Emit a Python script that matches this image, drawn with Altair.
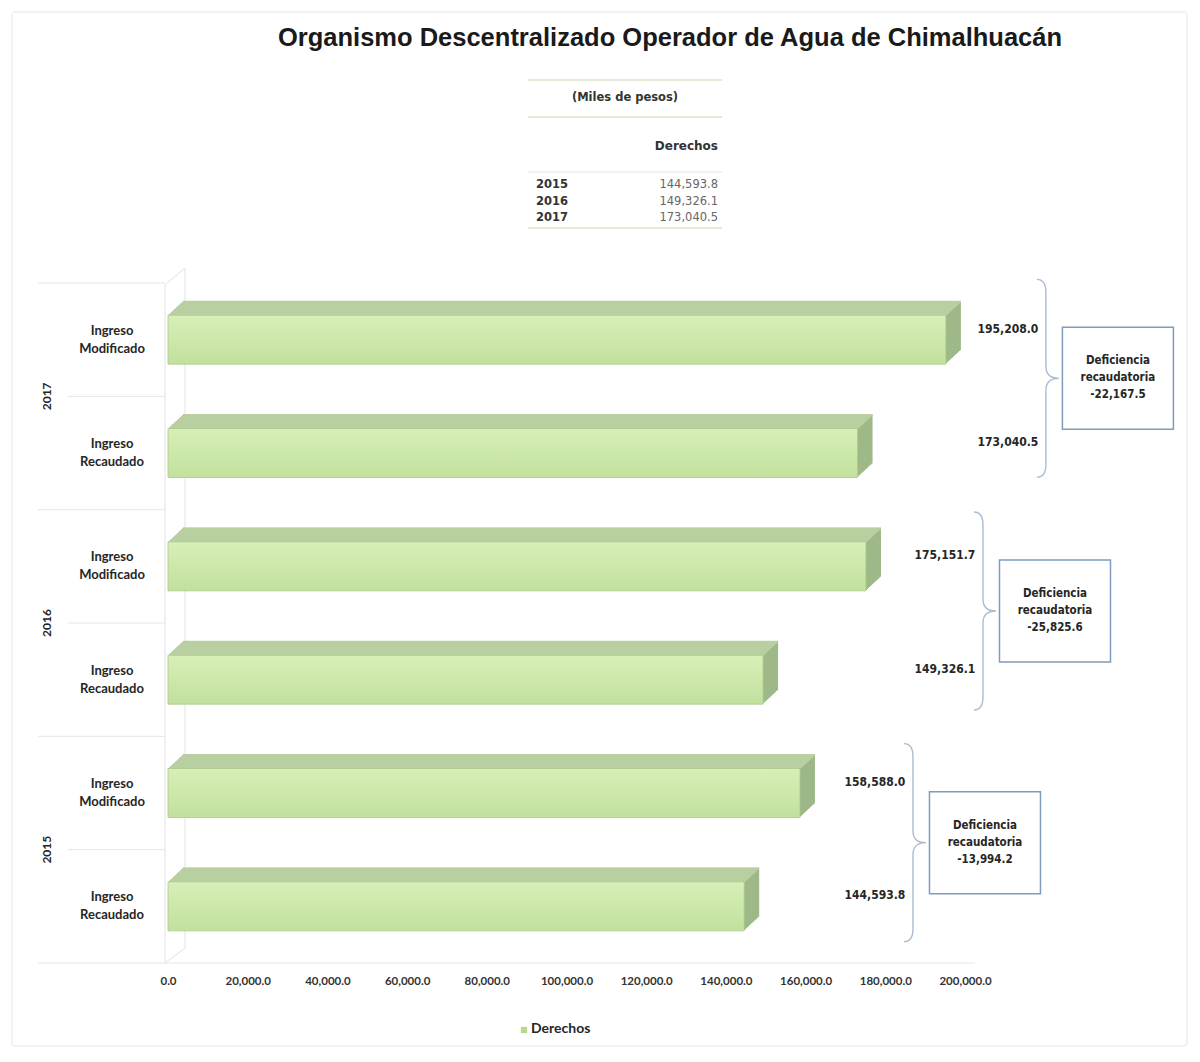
import altair as alt
import pandas as pd

# ---------------- data ----------------
title_text = "Organismo Descentralizado Operador de Agua de Chimalhuacán"
years = ["2017", "2016", "2015"]                      # top to bottom
ingreso_modificado = [195208.0, 175151.7, 158588.0]
ingreso_recaudado = [173040.5, 149326.1, 144593.8]
row_labels = ["Ingreso\nModificado", "Ingreso\nRecaudado"]
table_years = ["2015", "2016", "2017"]
table_derechos = [144593.8, 149326.1, 173040.5]
table_unit = "(Miles de pesos)"
table_header = "Derechos"
x_ticks = [0, 20000, 40000, 60000, 80000, 100000, 120000, 140000, 160000, 180000, 200000]
legend_label = "Derechos"
deficit_label = "Deficiencia\nrecaudatoria"

# ---------------- layout / style ----------------
W, H = 797, 680
XMAX = 200000
PX = XMAX / W                 # data units per pixel
STEP = H / 6
BAR = 49
DA, DB, N = 15, 14, 15        # 3D depth (right, up) and number of slices
LABEL_GAP = [62, 79, 75]      # px from bar end to value labels, per year
CENTER_OFF = [-18, -12, -7]   # px shift of brace/box centre, per year
TOP_C = "#b9cfa1"
SIDE_C = "#9fb888"
TXT = "#262626"
NARROW = "Liberation Sans Narrow, Arial Narrow, DejaVu Sans Condensed, sans-serif"
TABLE_FONT = "DejaVu Sans"
BRACE = "M-0.09,-0.99 Q0,-0.99 0,-0.86 L0,-0.12 Q0,0 0.13,0 Q0,0 0,0.12 L0,0.86 Q0,0.99 -0.09,0.99"
BOX = "M-0.555,-0.51 L0.555,-0.51 L0.555,0.51 L-0.555,0.51 Z"

rows = []
for i, yr in enumerate(years):
    for lab, v in zip(row_labels, [ingreso_modificado[i], ingreso_recaudado[i]]):
        rows.append({"key": f"{yr} {lab}", "year": yr, "label": lab, "value": v})
df = pd.DataFrame(rows)
keys = list(df["key"])

xscale = alt.Scale(domain=[0, XMAX], nice=False, zero=True)
yscale = alt.Scale(domain=keys, paddingInner=0, paddingOuter=0)
XAXIS = alt.Axis(values=x_ticks, format=",.1f", grid=False, domain=False, ticks=False,
                 labelPadding=12, labelFont="Lato", labelFontWeight="bold", labelFontSize=11.5,
                 labelColor="#333333", labelFlush=False, labelOverlap=False, title=None)
Y = alt.Y("key:N", scale=yscale, axis=None)
one = pd.DataFrame({"a": [0]})


def xq(field):
    return alt.X(field, scale=xscale, axis=XAXIS)


layers = []

# outer faint frame
layers.append(alt.Chart(one).mark_rect(fillOpacity=0, stroke="#e6e6e6", strokeWidth=1, cornerRadius=3).encode(
    x=alt.value(-156), x2=alt.value(W + 222), y=alt.value(-271), y2=alt.value(H + 83)))

# 3D wall (very faint)
wall = [(-3, 2, 17, -15), (17, -15, 17, H - 15), (-3, 2, -3, H), (17, H - 15, -3, H)]
for (a, b, c, d) in wall:
    layers.append(alt.Chart(one).mark_rule(color="#e2e2e2", strokeWidth=1).encode(
        x=alt.value(a), y=alt.value(b), x2=alt.value(c), y2=alt.value(d)))

# category separators on the left
for j in range(7):
    start = -130 if j % 2 == 0 else -100
    end = W + 10 if j == 6 else -3
    layers.append(alt.Chart(one).mark_rule(color="#e6e6e6", strokeWidth=1).encode(
        x=alt.value(start), x2=alt.value(end), y=alt.value(j * STEP), y2=alt.value(j * STEP)))

# 3D extrusion: side slices then top slices
for k in range(N, 0, -1):
    ox, oy = k * DA / N, -k * DB / N
    layers.append(alt.Chart(df).mark_bar(size=BAR, color=SIDE_C, xOffset=ox, x2Offset=ox,
                                         yOffset=oy, y2Offset=oy).encode(x=xq("value:Q"), y=Y))
for k in range(N, 0, -1):
    ox = k * DA / N
    oy = -(BAR / 2 + (k - 0.5) * DB / N)
    layers.append(alt.Chart(df).mark_bar(size=DB / N + 0.8, color=TOP_C, xOffset=ox, x2Offset=ox,
                                         yOffset=oy, y2Offset=oy).encode(x=xq("value:Q"), y=Y))

# front faces
front_grad = alt.Gradient(gradient="linear",
                          stops=[alt.GradientStop(color="#d7efb8", offset=0),
                                 alt.GradientStop(color="#c2e19c", offset=1)],
                          x1=0, x2=0, y1=0, y2=1)
layers.append(alt.Chart(df).mark_bar(size=BAR, color=front_grad, stroke="#a9c98b", strokeWidth=0.8).encode(
    x=xq("value:Q"), y=Y))

# row labels (two lines, centred on the band)
layers.append(alt.Chart(df).mark_text(lineBreak="\n", font="Lato", fontWeight="bold", fontSize=13,
                                      lineHeight=18, color=TXT, align="center", baseline="middle",
                                      dy=-9).encode(
    x=alt.value(-56), y=Y, text="label:N"))

# year labels (rotated)
layers.append(alt.Chart(df[df["label"] == row_labels[0]]).mark_text(
    angle=270, font="Lato", fontWeight="bold", fontSize=12, color=TXT, yOffset=STEP / 2,
    align="center", baseline="middle").encode(x=alt.value(-121), y=Y, text="year:N"))

# per-year annotations: value labels, brace, box
for i, yr in enumerate(years):
    mod, rec = ingreso_modificado[i], ingreso_recaudado[i]
    anchor_px = max(mod, rec) / PX + LABEL_GAP[i]
    lab = pd.DataFrame({"key": [keys[2 * i], keys[2 * i + 1]], "value": [mod, rec],
                        "lx": [anchor_px * PX] * 2})
    layers.append(alt.Chart(lab).mark_text(font=NARROW, fontWeight="bold", fontSize=12, color=TXT,
                                           dy=-11, align="center", baseline="middle").encode(
        x=xq("lx:Q"), y=Y, text=alt.Text("value:Q", format=",.1f")))
    diff = rec - mod
    ann = pd.DataFrame({"key": [keys[2 * i]], "bx": [(anchor_px + 38) * PX],
                        "cx": [(anchor_px + 110) * PX],
                        "txt": [f"{deficit_label}\n{diff:,.1f}"]})
    yo = STEP / 2 + CENTER_OFF[i]
    layers.append(alt.Chart(ann).mark_point(shape=BRACE, size=40000, filled=False, color="#a9bcd0",
                                            strokeWidth=1.4, opacity=1, yOffset=yo).encode(
        x=xq("bx:Q"), y=Y))
    layers.append(alt.Chart(ann).mark_point(shape=BOX, size=40000, filled=False, color="#7f9cba",
                                            strokeWidth=1.5, opacity=1, yOffset=yo).encode(
        x=xq("cx:Q"), y=Y))
    layers.append(alt.Chart(ann).mark_text(lineBreak="\n", font=NARROW, fontWeight="bold", fontSize=11.5,
                                           lineHeight=17, color=TXT, yOffset=yo, dy=-17,
                                           align="center", baseline="middle").encode(
        x=xq("cx:Q"), y=Y, text="txt:N"))

# title
layers.append(alt.Chart(one).mark_text(font="Liberation Sans", fontWeight="bold", fontSize=25.5,
                                       color="#1a1a1a", align="center", baseline="middle").encode(
    x=alt.value(502), y=alt.value(-245), text=alt.value(title_text)))

# small table
TX0, TX1 = 360, 554
for yy, col in [(-203, "#e0e0cc"), (-166, "#e0e0cc"), (-111, "#ececec"), (-55, "#e0e0cc")]:
    layers.append(alt.Chart(one).mark_rule(color=col, strokeWidth=1.5).encode(
        x=alt.value(TX0), x2=alt.value(TX1), y=alt.value(yy), y2=alt.value(yy)))
layers.append(alt.Chart(one).mark_text(font=TABLE_FONT, fontWeight="bold", fontSize=11.5,
                                       color="#333333", align="center", baseline="middle").encode(
    x=alt.value(457), y=alt.value(-185), text=alt.value(table_unit)))
layers.append(alt.Chart(one).mark_text(font=TABLE_FONT, fontWeight="bold", fontSize=12,
                                       color="#333333", align="right", baseline="middle").encode(
    x=alt.value(550), y=alt.value(-137), text=alt.value(table_header)))
layers.append(alt.Chart(one).mark_text(font=TABLE_FONT, fontWeight="bold", fontSize=11.5,
                                       lineBreak="\n", lineHeight=16.5, color="#333333",
                                       align="left", baseline="middle").encode(
    x=alt.value(368), y=alt.value(-98), text=alt.value("\n".join(table_years))))
layers.append(alt.Chart(one).mark_text(font=TABLE_FONT, fontSize=11.5,
                                       lineBreak="\n", lineHeight=16.5, color="#666666",
                                       align="right", baseline="middle").encode(
    x=alt.value(550), y=alt.value(-98),
    text=alt.value("\n".join(f"{v:,.1f}" for v in table_derechos))))

# legend
layers.append(alt.Chart(one).mark_point(shape="square", filled=True, size=40, color="#b7d88f", opacity=1).encode(
    x=alt.value(356), y=alt.value(747)))
layers.append(alt.Chart(one).mark_text(font="Lato", fontWeight="bold", fontSize=14, color=TXT,
                                       align="left", baseline="middle").encode(
    x=alt.value(363), y=alt.value(746), text=alt.value(legend_label)))

chart = alt.layer(*layers).properties(
    width=W, height=H,
    autosize=alt.AutoSizeParams(type="none"),
    padding={"left": 160, "top": 275, "right": 225, "bottom": 85},
    background="white",
).configure_view(strokeWidth=0)

chart.save("out.html", embed_options={"renderer": "svg", "actions": False})
